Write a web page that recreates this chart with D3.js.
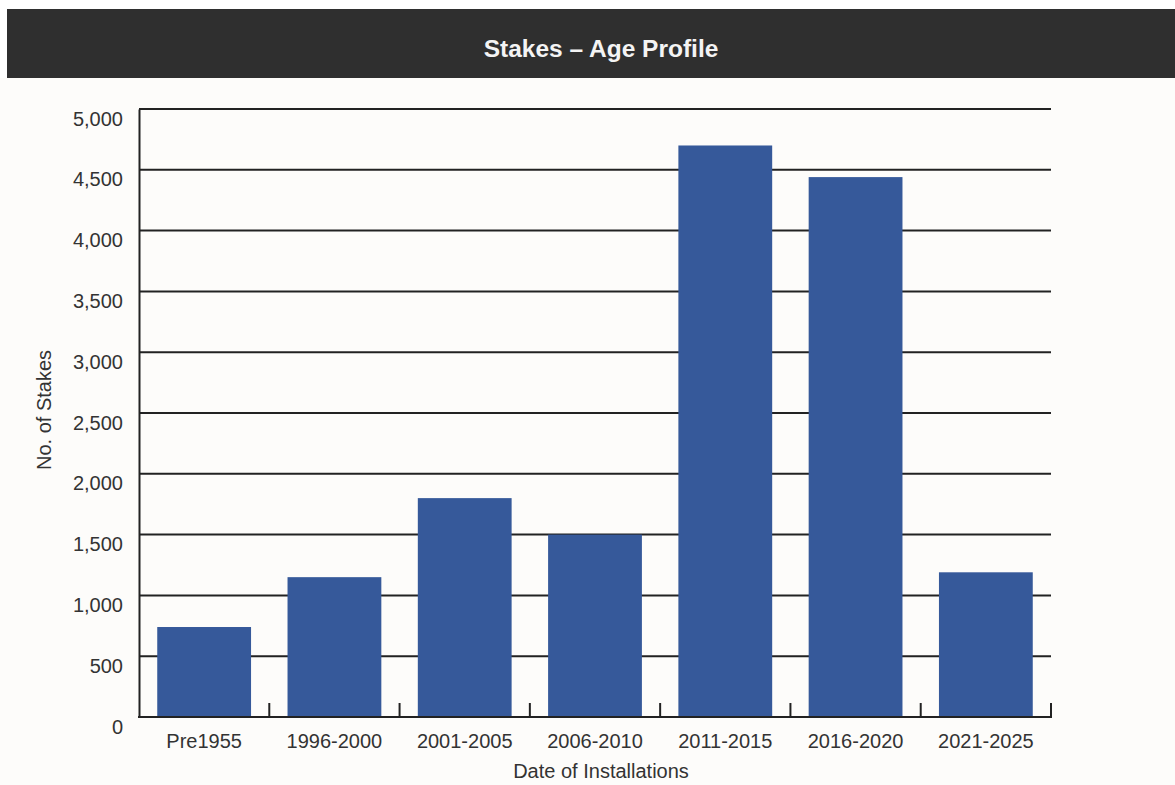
<!DOCTYPE html>
<html>
<head>
<meta charset="utf-8">
<script src="https://cdn.jsdelivr.net/npm/d3@7"></script>
<style>
	body { margin: 0; background: #fff; }
	svg { display: block; font-family: "Liberation Sans", Arial, sans-serif; }
</style>
</head>
<body>
<div id="chart"></div>
<script>
// data
const categories = ["Pre1955", "1996-2000", "2001-2005", "2006-2010", "2011-2015", "2016-2020", "2021-2025"];
const stakes = [740, 1150, 1800, 1500, 4700, 4440, 1190];
const y_ticks = [0, 500, 1000, 1500, 2000, 2500, 3000, 3500, 4000, 4500, 5000];

const canvas_width = 1175;
const canvas_height = 785;

const svg = d3.select("#chart")
	.append("svg")
		.attr("width", canvas_width)
		.attr("height", canvas_height);

// off-white page below the title bar
svg.append("rect")
	.attr("x", 0).attr("y", 78)
	.attr("width", canvas_width).attr("height", canvas_height - 78)
	.attr("fill", "#fdfcfa");

// title bar
svg.append("rect")
	.attr("x", 7).attr("y", 9)
	.attr("width", canvas_width - 7).attr("height", 69)
	.attr("fill", "#2f2f2f");
svg.append("text")
	.attr("x", 601).attr("y", 57)
	.attr("text-anchor", "middle")
	.attr("fill", "#f4f4f4")
	.attr("font-size", 24.5)
	.attr("font-weight", "bold")
	.text("Stakes \u2013 Age Profile");

const plot = {left: 139, right: 1051, top: 109, bottom: 717};

const x = d3.scaleBand()
	.domain(categories)
	.range([plot.left, plot.right])
	.paddingInner(0.28)
	.paddingOuter(0.14);

const y = d3.scaleLinear()
	.domain([0, 5000])
	.range([plot.bottom, plot.top]);

// gridlines
svg.append("g")
	.selectAll("line")
	.data(y_ticks.filter(d => d > 0))
	.join("line")
		.attr("x1", plot.left).attr("x2", plot.right)
		.attr("y1", d => y(d)).attr("y2", d => y(d))
		.attr("stroke", "#222")
		.attr("stroke-width", 2);

// bars
svg.append("g")
	.selectAll("rect")
	.data(stakes)
	.join("rect")
		.attr("x", (d, i) => x(categories[i]))
		.attr("y", d => y(d))
		.attr("width", x.bandwidth())
		.attr("height", d => y(0) - y(d))
		.attr("fill", "#36599a");

// y axis (labels sit a little below their lines, as in the original)
const yAxis = svg.append("g")
	.attr("transform", "translate(" + plot.left + ",0)")
	.call(d3.axisLeft(y).tickValues(y_ticks).tickFormat(d3.format(",")).tickSize(0).tickPadding(16));
yAxis.select(".domain").attr("stroke", "#222").attr("stroke-width", 2);
yAxis.selectAll("text")
	.attr("font-size", 20)
	.attr("fill", "#333")
	.attr("font-family", "Liberation Sans, Arial, sans-serif")
	.attr("dy", 16);

// x axis: baseline plus tick marks between the categories
const step = x.step();
const boundaries = d3.range(1, categories.length + 1).map(i => plot.left + step * i);
svg.append("line")
	.attr("x1", plot.left - 1).attr("x2", plot.right)
	.attr("y1", plot.bottom).attr("y2", plot.bottom)
	.attr("stroke", "#222").attr("stroke-width", 2);
svg.append("g")
	.selectAll("line")
	.data(boundaries)
	.join("line")
		.attr("x1", d => d).attr("x2", d => d)
		.attr("y1", plot.bottom + 1).attr("y2", plot.bottom - 14)
		.attr("stroke", "#222").attr("stroke-width", 2);

svg.append("g")
	.selectAll("text")
	.data(categories)
	.join("text")
		.attr("x", d => x(d) + x.bandwidth() / 2)
		.attr("y", 748)
		.attr("text-anchor", "middle")
		.attr("font-size", 20)
		.attr("fill", "#333")
		.text(d => d);

// axis titles
svg.append("text")
	.attr("x", 601).attr("y", 778)
	.attr("text-anchor", "middle")
	.attr("font-size", 20)
	.attr("fill", "#333")
	.text("Date of Installations");
svg.append("text")
	.attr("transform", "translate(51,410) rotate(-90)")
	.attr("text-anchor", "middle")
	.attr("font-size", 20)
	.attr("fill", "#333")
	.text("No. of Stakes");
</script>
</body>
</html>
